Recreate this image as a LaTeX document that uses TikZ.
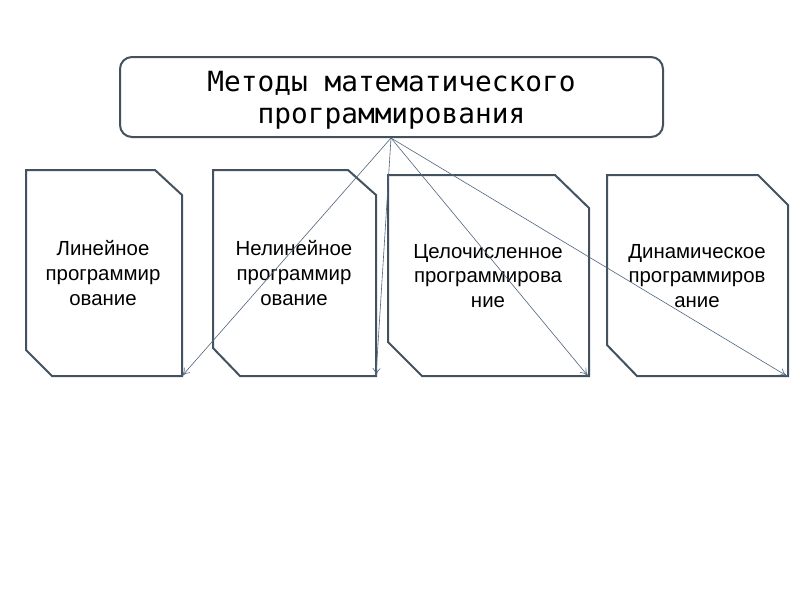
\documentclass[tikz,border=0pt]{standalone}
\usepackage{fontspec}
\setmainfont{Liberation Sans}
\newfontfamily\monofnt{DejaVu Sans Mono}
\usetikzlibrary{arrows.meta}
\definecolor{edge}{RGB}{68,82,96}
\definecolor{arr}{RGB}{80,100,125}
\tikzset{
  boxline/.style={draw=edge, line width=1pt, line join=miter},
  boxtext/.style={align=center, font=\fontsize{10.2}{12.3}\selectfont, text=black},
  conn/.style={draw=arr, line width=0.3pt, -{To[length=4pt,width=4pt]}},
}
\begin{document}
\begin{tikzpicture}[x=0.5pt, y=-0.5pt]
\useasboundingbox[fill=white] (0,0) rectangle (800,600);
% top box
\draw[draw=edge, line width=1pt, rounded corners=6pt] (120,57) rectangle (663,137);
\node[align=center, font=\monofnt\fontsize{13.9}{16}\selectfont] (top) at (391.5,100)
  {Методы математического\\программирования};
% box 1
\draw[boxline] (26,170) -- (155,170) -- (182,195) -- (182,376) -- (52,376) -- (26,350) -- cycle;
\coordinate (c1) at (182,376);
\node[boxtext] (t1) at (103,273) {Линейное\\программир\\ование};
% box 2
\draw[boxline] (213,170) -- (348,170) -- (376,195) -- (376,376) -- (240,376) -- (213,348) -- cycle;
\coordinate (c2) at (376,376);
\node[boxtext] (t2) at (294,273) {Нелинейное\\программир\\ование};
% box 3
\draw[boxline] (388,175) -- (555,175) -- (589,208) -- (589,376) -- (422,376) -- (388,342) -- cycle;
\coordinate (c3) at (588,376);
\node[boxtext] (t3) at (488,276) {Целочисленное\\программирова\\ние};
% box 4
\draw[boxline] (607,175) -- (758,175) -- (788,205) -- (788,376) -- (637,376) -- (607,345) -- cycle;
\coordinate (c4) at (787,376);
\node[boxtext] (t4) at (697,276) {Динамическое\\программиров\\ание};
% connectors
\coordinate (o) at (391,138);
\draw[conn] (o) -- (c1);
\draw[conn] (o) -- (c2);
\draw[conn] (o) -- (c3);
\draw[conn] (o) -- (c4);
\end{tikzpicture}
\end{document}
